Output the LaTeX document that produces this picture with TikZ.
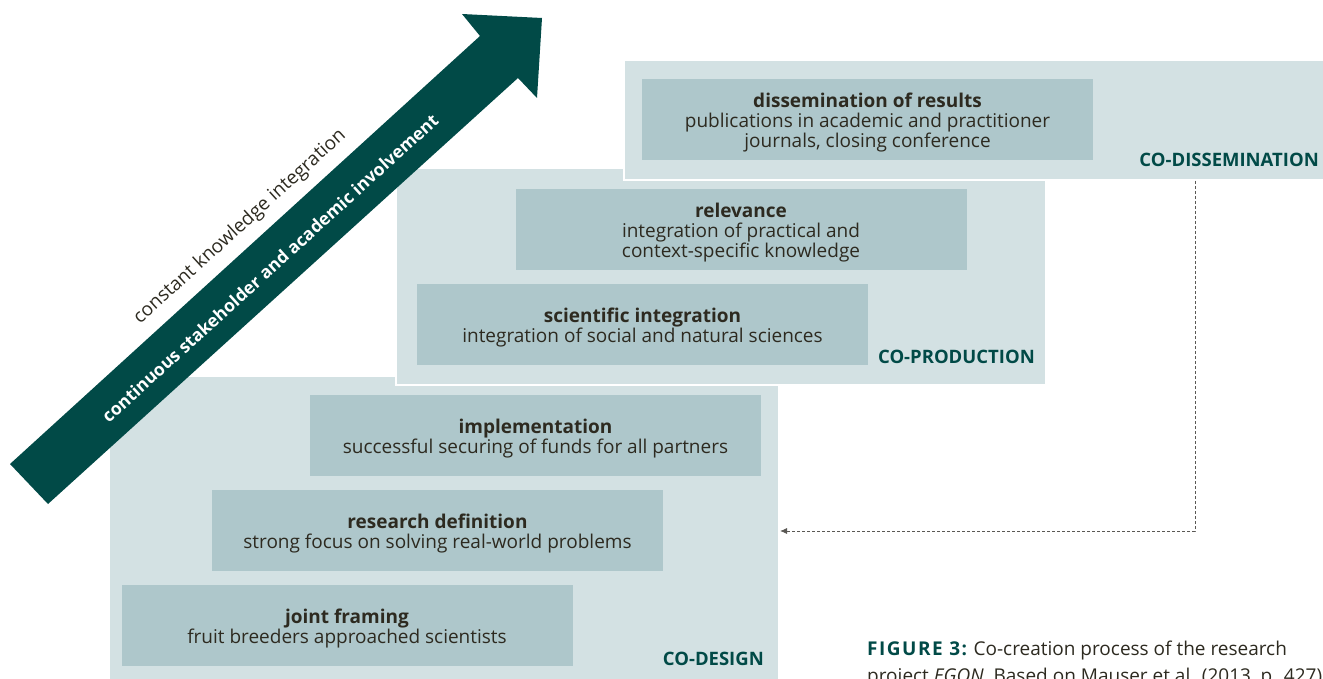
\documentclass[tikz,border=0pt]{standalone}
\usepackage{fontspec}
\setmainfont{Open Sans}
\usepackage{xcolor}
\usetikzlibrary{arrows.meta}

\definecolor{egonteal}{RGB}{1,74,71}
\definecolor{paleteal}{RGB}{211,225,227}
\definecolor{boxteal}{RGB}{174,199,203}
\definecolor{inktext}{RGB}{45,42,32}
\definecolor{linkgray}{RGB}{90,88,84}

\tikzset{
  phasebox/.style={fill=paleteal, draw=white, line width=2pt, inner sep=0pt, anchor=north west},
  stepbox/.style={fill=boxteal, text=inktext, inner sep=0pt, minimum width=451pt, minimum height=81pt,
    align=center, font=\fontsize{19}{20}\selectfont},
  phaselabel/.style={text=egonteal, inner sep=0pt, anchor=east, font=\fontsize{18.5}{18}\selectfont\bfseries},
  link/.style={linkgray, line width=0.9pt, dash pattern=on 3pt off 2pt, -{Latex[length=7pt,width=6pt]}}
}
% first line of a step, pushed down a little
\newcommand{\steptitle}[1]{\rule{0pt}{21pt}\textbf{#1}}

\begin{document}
\begin{tikzpicture}[x=1pt,y=-1pt]
\useasboundingbox (0,0) rectangle (1323,679);
\clip (0,0) rectangle (1323,679);
% draws phase boxes
\node[phasebox, minimum width=670pt, minimum height=310pt] (design) at (108,375) {};
\node[phasebox, minimum width=650pt, minimum height=217pt] (production) at (395,167) {};
\node[phasebox, minimum width=720pt, minimum height=120pt] (dissemination) at (623,59) {};
% draws steps
\node[stepbox] (framing) at (347,625) {\steptitle{joint framing}\\fruit breeders approached scientists};
\node[stepbox] (definition) at (437.5,530.5) {\steptitle{research definition}\\strong focus on solving real-world problems};
\node[stepbox] (implementation) at (535.5,435.5) {\steptitle{implementation}\\successful securing of funds for all partners};
\node[stepbox] (integration) at (642.5,324) {\steptitle{scientific integration}\\integration of social and natural sciences};
\node[stepbox] (relevance) at (741,229.5) {\steptitle{relevance}\\integration of practical and\\context-specific knowledge};
\node[stepbox] (results) at (867.5,119.5) {\steptitle{dissemination of results}\\publications in academic and practitioner\\journals, closing conference};
% labels phases
\node[phaselabel] (designlabel) at (764,659) {CO-DESIGN};
\node[phaselabel] (productionlabel) at (1035,357) {CO-PRODUCTION};
\node[phaselabel] (disseminationlabel) at (1319,160) {CO-DISSEMINATION};
% feedback link
\coordinate (fork) at (1195,0);
\draw[link] (dissemination.south -| fork) |- (design.east);
% draws big arrow
\fill[egonteal] (10,464) -- (480,36) -- (462,14) -- (542,18) -- (537,98) -- (518,78) -- (48,504) -- cycle;
\node[rotate=42.3, text=white, font=\fontsize{17.5}{20}\selectfont\bfseries] (involvement) at (270,268) {continuous stakeholder and academic involvement};
\node[rotate=42.3, text=inktext, font=\fontsize{19}{20}\selectfont] (knowledge) at (240,227) {constant knowledge integration};
% caption
\node[anchor=base west, inner sep=0pt, align=left, text=inktext, font=\fontsize{19}{27}\selectfont] (caption) at (867,682)
  {{\color{egonteal}\bfseries\addfontfeature{LetterSpace=8}FIGURE 3:} Co-creation process of the research\\project \textit{EGON}. Based on Mauser et al. (2013, p. 427)};
\end{tikzpicture}
\end{document}
